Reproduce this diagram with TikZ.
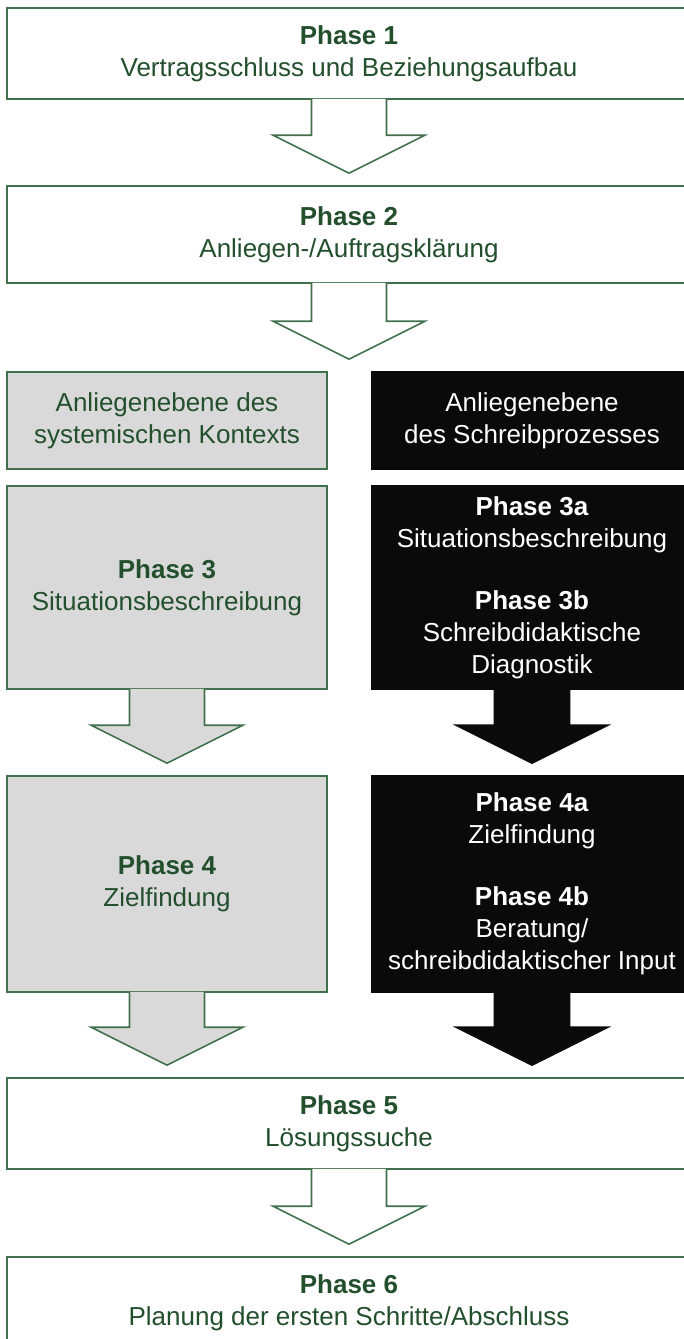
\documentclass[tikz,border=0pt]{standalone}
\usepackage{fontspec}
\setmainfont{Liberation Sans}
\usetikzlibrary{calc}
\definecolor{rahmen}{HTML}{41704C}
\definecolor{schrift}{HTML}{234F2D}
\definecolor{hellgrau}{HTML}{D9D9D9}
\definecolor{fastschwarz}{HTML}{0A0A0A}
\tikzset{
  phase/.style={draw=rahmen, line width=0.8pt, fill=white, text=schrift, align=center,
    inner sep=0pt, font=\fontsize{13}{16}\selectfont},
  breit/.style={phase, minimum width=342pt, minimum height=45.5pt},
  links/.style={phase, fill=hellgrau, minimum width=160pt},
  rechts/.style={phase, draw=fastschwarz, fill=fastschwarz, text=white, minimum width=160pt},
}
\newcommand{\blockpfeil}[4]{%
\filldraw[fill=#1, draw=#2, line width=0.8pt]
  ($(#3.south)+(-37.5,-1)$) -- ($(#3.south |- #4.north)+(-37.5,-50)$)
  -- ($(#3.south |- #4.north)+(-76,-50)$) -- ($(#3.south |- #4.north)+(0,-12)$)
  -- ($(#3.south |- #4.north)+(76,-50)$) -- ($(#3.south |- #4.north)+(37.5,-50)$)
  -- ($(#3.south)+(37.5,-1)$);
}
\begin{document}
\begin{tikzpicture}[x=0.5pt, y=-0.5pt]
\useasboundingbox (0,0) rectangle (684,1339);
\clip (0,0) rectangle (684,1339);
\fill[white] (0,0) rectangle (684,1339);
\node[breit] (p1) at (349,53.5) {\textbf{Phase 1}\\Vertragsschluss und Beziehungsaufbau};
\node[breit, minimum height=48.5pt] (p2) at (349,234.5) {\textbf{Phase 2}\\Anliegen-/Auftragsklärung};
\node[links, minimum height=48.5pt] (kontext) at (167,420.5) {Anliegenebene des\\systemischen Kontexts};
\node[rechts, minimum height=48.5pt] (prozess) at (532,420.5) {Anliegenebene\\des Schreibprozesses};
\node[links, minimum height=101.5pt] (s3) at (167,587.5) {\textbf{Phase 3}\\Situationsbeschreibung};
\node[rechts, minimum height=101.5pt] (b3) at (532,587.5) {\textbf{Phase 3a}\\Situationsbeschreibung\\[15pt]\textbf{Phase 3b}\\Schreibdidaktische\\Diagnostik};
\node[links, minimum height=108pt] (s4) at (167,884) {\textbf{Phase 4}\\Zielfindung};
\node[rechts, minimum height=108pt] (b4) at (532,884) {\textbf{Phase 4a}\\Zielfindung\\[15pt]\textbf{Phase 4b}\\Beratung/\\schreibdidaktischer Input};
\node[breit] (p5) at (349,1123.5) {\textbf{Phase 5}\\Lösungssuche};
\node[breit] (p6) at (349,1302.5) {\textbf{Phase 6}\\Planung der ersten Schritte/Abschluss};
\blockpfeil{white}{rahmen}{p1}{p2}
\blockpfeil{white}{rahmen}{p2}{kontext}
\blockpfeil{hellgrau}{rahmen}{s3}{s4}
\blockpfeil{fastschwarz}{fastschwarz}{b3}{b4}
\blockpfeil{hellgrau}{rahmen}{s4}{p5}
\blockpfeil{fastschwarz}{fastschwarz}{b4}{p5}
\blockpfeil{white}{rahmen}{p5}{p6}
\end{tikzpicture}
\end{document}
